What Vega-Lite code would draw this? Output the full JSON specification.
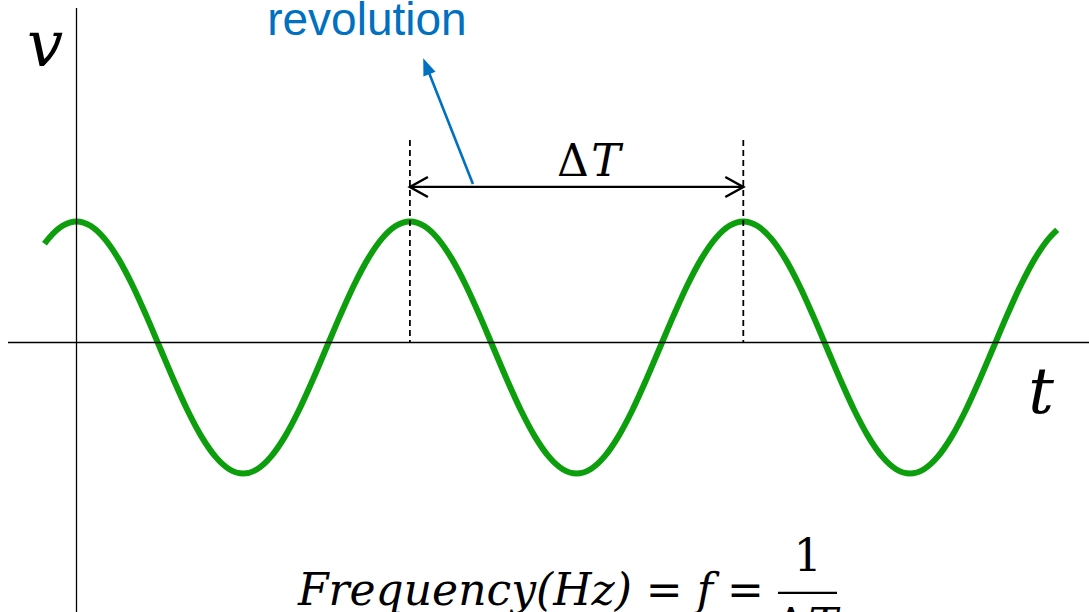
{
  "$schema": "https://vega.github.io/schema/vega-lite/v6.json",
  "width": 1089,
  "height": 612,
  "padding": 0,
  "autosize": {"type": "none"},
  "background": "white",
  "config": {"view": {"stroke": null}},
  "encoding": {
    "x": {"field": "t", "type": "quantitative", "scale": {"domain": [-0.22946, 3.03689], "nice": false, "zero": false}, "axis": null},
    "y": {"field": "v", "type": "quantitative", "scale": {"domain": [-2.0992, 2.7579], "nice": false, "zero": false}, "axis": null}
  },
  "layer": [
    {
      "data": {"values": [
        {"t": -0.096, "v": 0.8236}, {"t": -0.0833, "v": 0.866}, {"t": -0.0417, "v": 0.9659},
        {"t": 0, "v": 1}, {"t": 0.0417, "v": 0.9659}, {"t": 0.0833, "v": 0.866}, {"t": 0.125, "v": 0.7071},
        {"t": 0.1667, "v": 0.5}, {"t": 0.2083, "v": 0.2588}, {"t": 0.25, "v": 0}, {"t": 0.2917, "v": -0.2588},
        {"t": 0.3333, "v": -0.5}, {"t": 0.375, "v": -0.7071}, {"t": 0.4167, "v": -0.866}, {"t": 0.4583, "v": -0.9659},
        {"t": 0.5, "v": -1}, {"t": 0.5417, "v": -0.9659}, {"t": 0.5833, "v": -0.866}, {"t": 0.625, "v": -0.7071},
        {"t": 0.6667, "v": -0.5}, {"t": 0.7083, "v": -0.2588}, {"t": 0.75, "v": 0}, {"t": 0.7917, "v": 0.2588},
        {"t": 0.8333, "v": 0.5}, {"t": 0.875, "v": 0.7071}, {"t": 0.9167, "v": 0.866}, {"t": 0.9583, "v": 0.9659},
        {"t": 1, "v": 1}, {"t": 1.0417, "v": 0.9659}, {"t": 1.0833, "v": 0.866}, {"t": 1.125, "v": 0.7071},
        {"t": 1.1667, "v": 0.5}, {"t": 1.2083, "v": 0.2588}, {"t": 1.25, "v": 0}, {"t": 1.2917, "v": -0.2588},
        {"t": 1.3333, "v": -0.5}, {"t": 1.375, "v": -0.7071}, {"t": 1.4167, "v": -0.866}, {"t": 1.4583, "v": -0.9659},
        {"t": 1.5, "v": -1}, {"t": 1.5417, "v": -0.9659}, {"t": 1.5833, "v": -0.866}, {"t": 1.625, "v": -0.7071},
        {"t": 1.6667, "v": -0.5}, {"t": 1.7083, "v": -0.2588}, {"t": 1.75, "v": 0}, {"t": 1.7917, "v": 0.2588},
        {"t": 1.8333, "v": 0.5}, {"t": 1.875, "v": 0.7071}, {"t": 1.9167, "v": 0.866}, {"t": 1.9583, "v": 0.9659},
        {"t": 2, "v": 1}, {"t": 2.0417, "v": 0.9659}, {"t": 2.0833, "v": 0.866}, {"t": 2.125, "v": 0.7071},
        {"t": 2.1667, "v": 0.5}, {"t": 2.2083, "v": 0.2588}, {"t": 2.25, "v": 0}, {"t": 2.2917, "v": -0.2588},
        {"t": 2.3333, "v": -0.5}, {"t": 2.375, "v": -0.7071}, {"t": 2.4167, "v": -0.866}, {"t": 2.4583, "v": -0.9659},
        {"t": 2.5, "v": -1}, {"t": 2.5417, "v": -0.9659}, {"t": 2.5833, "v": -0.866}, {"t": 2.625, "v": -0.7071},
        {"t": 2.6667, "v": -0.5}, {"t": 2.7083, "v": -0.2588}, {"t": 2.75, "v": 0}, {"t": 2.7917, "v": 0.2588},
        {"t": 2.8333, "v": 0.5}, {"t": 2.875, "v": 0.7071}, {"t": 2.9167, "v": 0.866}, {"t": 2.9415, "v": 0.9332}
      ]},
      "mark": {"type": "line", "interpolate": "monotone", "color": "#0C9E0C", "strokeWidth": 6}
    },
    {
      "data": {"values": [
        {"t": -0.2055, "t2": 3.04, "v": 0.0397, "v2": 0.0397},
        {"t": 0, "t2": 0, "v": 2.694, "v2": -2.3}
      ]},
      "mark": {"type": "rule", "color": "black", "strokeWidth": 1.3},
      "encoding": {"x2": {"field": "t2"}, "y2": {"field": "v2"}}
    },
    {
      "data": {"values": [
        {"t": 1, "t2": 1, "v": 1.647, "v2": 0.0397},
        {"t": 2, "t2": 2, "v": 1.647, "v2": 0.0397}
      ]},
      "mark": {"type": "rule", "color": "black", "strokeWidth": 1.8, "strokeDash": [6, 4]},
      "encoding": {"x2": {"field": "t2"}, "y2": {"field": "v2"}}
    },
    {
      "data": {"values": [
        {"t": 1, "t2": 2, "v": 1.274, "v2": 1.274},
        {"t": 2.104, "t2": 2.281, "v": -1.948, "v2": -1.948}
      ]},
      "mark": {"type": "rule", "color": "black", "strokeWidth": 2.3},
      "encoding": {"x2": {"field": "t2"}, "y2": {"field": "v2"}}
    },
    {
      "data": {"values": [{"t": 1, "v": 1.274}]},
      "mark": {"type": "point", "shape": "M 1.8 -1 L 0 0 L 1.8 1", "size": 400, "filled": false, "color": "black", "strokeWidth": 2.5, "opacity": 1}
    },
    {
      "data": {"values": [{"t": 2, "v": 1.274}]},
      "mark": {"type": "point", "shape": "M -1.8 -1 L 0 0 L -1.8 1", "size": 400, "filled": false, "color": "black", "strokeWidth": 2.5, "opacity": 1}
    },
    {
      "data": {"values": [{"t": 1.189, "t2": 1.0567, "v": 1.298, "v2": 2.185}]},
      "mark": {"type": "rule", "color": "#0070C0", "strokeWidth": 2.6},
      "encoding": {"x2": {"field": "t2"}, "y2": {"field": "v2"}}
    },
    {
      "data": {"values": [{"t": 1.04, "v": 2.295}]},
      "mark": {"type": "point", "shape": "M 0 0 L -0.5 1.3 L 0.5 1.3 Z", "size": 676, "filled": true, "color": "#0070C0", "opacity": 1, "angle": 338.4}
    },
    {
      "data": {"values": [{"t": 0.871, "v": 2.48, "label": "revolution"}]},
      "mark": {"type": "text", "font": "Liberation Sans", "fontSize": 46, "color": "#0070C0", "align": "center", "baseline": "alphabetic"},
      "encoding": {"text": {"field": "label"}}
    },
    {
      "data": {"values": [
        {"t": -0.0945, "v": 2.234, "label": "v"},
        {"t": 2.893, "v": -0.52, "label": "t"}
      ]},
      "mark": {"type": "text", "font": "DejaVu Serif", "fontStyle": "italic", "fontSize": 64, "color": "black", "align": "center", "baseline": "alphabetic"},
      "encoding": {"text": {"field": "label"}}
    },
    {
      "data": {"values": [
        {"t": 1.489, "v": 1.361, "label": "Δ"},
        {"t": 2.193, "v": -1.774, "label": "1"},
        {"t": 2.143, "v": -2.321, "label": "Δ"}
      ]},
      "mark": {"type": "text", "font": "DejaVu Serif", "fontSize": 44, "color": "black", "align": "center", "baseline": "alphabetic"},
      "encoding": {"text": {"field": "label"}}
    },
    {
      "data": {"values": [
        {"t": 1.588, "v": 1.361, "label": "T"},
        {"t": 1.363, "v": -2.044, "label": "Frequency(Hz) = f ="},
        {"t": 2.239, "v": -2.321, "label": "T"}
      ]},
      "mark": {"type": "text", "font": "DejaVu Serif", "fontStyle": "italic", "fontSize": 44, "color": "black", "align": "center", "baseline": "alphabetic"},
      "encoding": {"text": {"field": "label"}}
    }
  ]
}
